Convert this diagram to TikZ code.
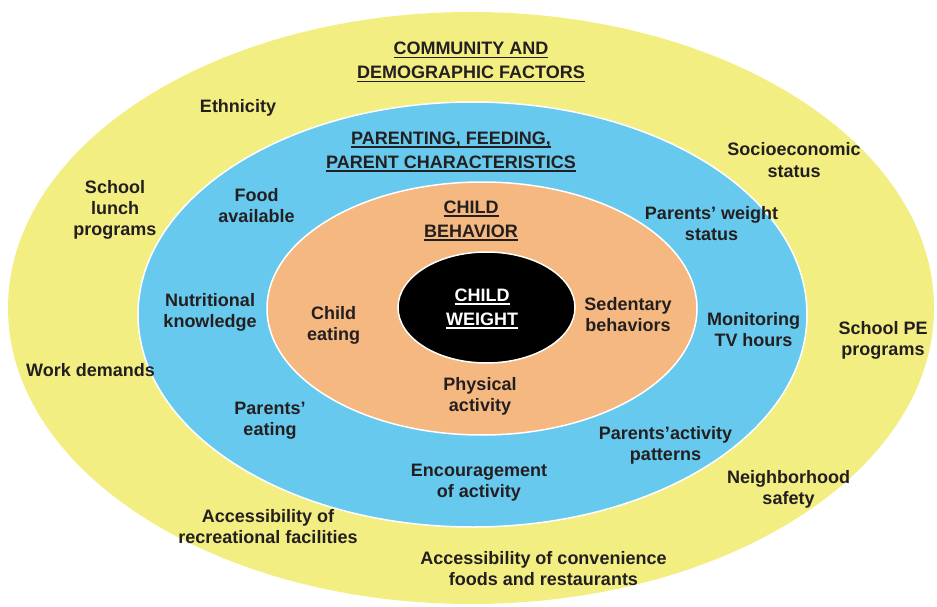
\documentclass[tikz,border=0pt]{standalone}
\usepackage{fontspec}
\setmainfont{Liberation Sans}
\definecolor{ringY}{HTML}{F2EE82}
\definecolor{ringB}{HTML}{67C9EE}
\definecolor{ringO}{HTML}{F5B880}
\definecolor{ink}{HTML}{231F20}
\newcommand\ulc[1]{\setbox0=\hbox{#1}\leavevmode\rlap{\rule[-3.5pt]{\wd0}{1.4pt}}\box0}
\begin{document}
\begin{tikzpicture}[x=1pt,y=-1pt,
  lbl/.style={inner sep=0pt,anchor=base,align=center,text=ink,
    font=\fontsize{18}{21}\selectfont\bfseries},
  head/.style={lbl,font=\fontsize{18}{24}\selectfont\bfseries},
  ring/.style={draw=white,line width=1.5pt}]
\useasboundingbox (0,0) rectangle (937,607);
% rings
\fill[ringY] (471,308) ellipse [x radius=463pt, y radius=296pt];
\path[ring,fill=ringB] (472.5,314.5) ellipse [x radius=334.5pt, y radius=212.5pt];
\path[ring,fill=ringO] (482,308.5) ellipse [x radius=215pt, y radius=126.5pt];
\path[ring,fill=black] (486.5,307.5) ellipse [x radius=88.5pt, y radius=55.5pt];
% headings (anchor = baseline of last line)
\node[head] (hcomm) at (471,79) {\ulc{COMMUNITY AND}\\\ulc{DEMOGRAPHIC FACTORS}};
\node[head] (hpar) at (451,168) {\ulc{PARENTING, FEEDING,}\\\ulc{PARENT CHARACTERISTICS}};
\node[head] (hbeh) at (471,237) {\ulc{CHILD}\\\ulc{BEHAVIOR}};
\node[head,text=white] (hwt) at (482,325) {\ulc{CHILD}\\\ulc{WEIGHT}};
% outer ring
\node[lbl] (eth) at (238,113) {Ethnicity};
\node[lbl] (ses) at (794,177) {Socioeconomic\\status};
\node[lbl] (slp) at (115,235) {School\\lunch\\programs};
\node[lbl] (spe) at (883,355) {School PE\\programs};
\node[lbl] (work) at (90.5,376.5) {Work demands};
\node[lbl] (nbh) at (788.5,504) {Neighborhood\\safety};
\node[lbl] (arf) at (268,543.5) {Accessibility of\\recreational facilities};
\node[lbl] (acf) at (543.5,585) {Accessibility of convenience\\foods and restaurants};
% middle ring
\node[lbl] (food) at (256.5,222.5) {Food\\available};
\node[lbl] (pws) at (711.5,240) {Parents' weight\\status};
\node[lbl] (nut) at (210,327) {Nutritional\\knowledge};
\node[lbl] (mon) at (753.5,346) {Monitoring\\TV hours};
\node[lbl] (pe) at (270,435) {Parents'\\eating};
\node[lbl] (pap) at (665.5,460) {Parents'activity\\patterns};
\node[lbl] (enc) at (479,497) {Encouragement\\of activity};
% inner ring
\node[lbl] (ce) at (333.5,340) {Child\\eating};
\node[lbl] (sed) at (628,331.5) {Sedentary\\behaviors};
\node[lbl] (phy) at (480,411.5) {Physical\\activity};
\end{tikzpicture}
\end{document}
